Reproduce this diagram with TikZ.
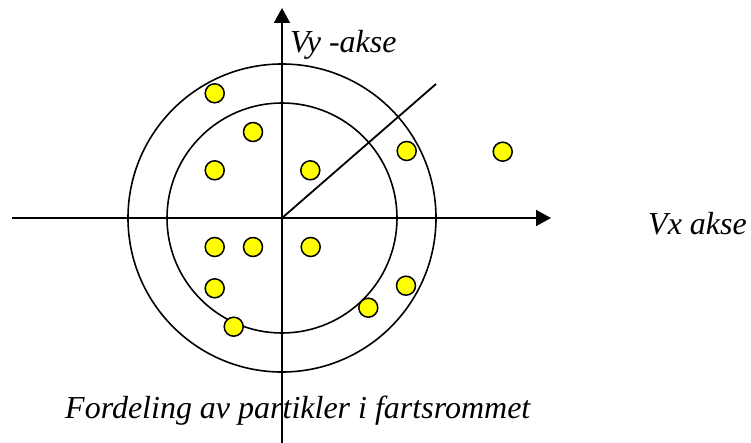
\documentclass[tikz,border=0pt]{standalone}
\usepackage{fontspec}
\setmainfont{Liberation Serif}[ItalicFont={Liberation Serif Italic}]
\usepackage{tikz}
\usetikzlibrary{arrows.meta, positioning}
\definecolor{dotYellow}{HTML}{FFFF00}

\begin{document}
\begin{tikzpicture}[x=1pt, y=-1pt, >={Triangle[length=15pt, width=16pt]},
  axis/.style={line width=1.8pt},
  ring/.style={line width=1.6pt},
  dot/.style={circle, draw, line width=1.5pt, fill=dotYellow, minimum size=19pt, inner sep=0pt},
  lbl/.style={font=\fontsize{32}{36}\selectfont\itshape, inner sep=0pt, anchor=base west}]
\useasboundingbox (0,0) rectangle (751,443);
\coordinate (o) at (282,218);
\coordinate (xl) at (12,218);
\coordinate (xr) at (551,218);
\coordinate (yb) at (282,443);
\coordinate (yt) at (282,8);
\coordinate (diag) at (436,84);
% rings
\draw[ring] (o) circle[radius=154];
\draw[ring] (o) circle[radius=115];
% axes
\draw[axis, ->] (xl) -- (xr);
\draw[axis, ->] (yb) -- (yt);
\draw[axis] (o) -- (diag);
% particles
\foreach \x/\y [count=\i] in {214.7/93.3, 253/132, 214.7/170.3, 310.3/170.3, 406.7/151,
    502.7/151.7, 214.7/247, 253/247, 310.7/247, 214.7/288.3, 406/285.7, 368.3/307.7, 233.7/326.7} {
  \node[dot] (p\i) at (\x,\y) {};
}
% labels
\node[lbl] (vy) at (290,53) {Vy -akse};
\node[lbl] (vx) at (648,235) {Vx akse};
\node[lbl] (cap) at (65,418) {Fordeling av partikler i fartsrommet};
\end{tikzpicture}
\end{document}
